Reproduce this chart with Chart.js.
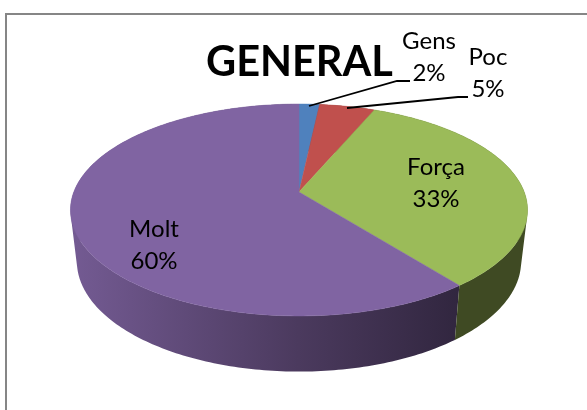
<!DOCTYPE html>
<html><head><meta charset="utf-8">
<style>html,body{margin:0;padding:0;background:#fff}#wrap{position:absolute;left:0;top:0;width:587px;height:410px}</style>
<script src="https://cdn.jsdelivr.net/npm/chart.js@4"></script></head>
<body><div id="wrap"><canvas id="c" width="587" height="410"></canvas></div>
<script>
const categories=['Gens','Poc','Força','Molt'];
const values=[1.7,4.6,33.0,60.4];
const percentLabels=['2%','5%','33%','60%'];
const faceColors=['#4F81BD','#C0504D','#9BBB59','#8064A2'];
const titleText='GENERAL';

const CX=299,CY=192,A=225.2,B=102.9,P=0.1698,K=0.972,YB=1.04,YA=43;
const FONT='Lato, Carlito, Calibri, sans-serif';
const labelPos=[[429,41,73],[488,57,89],[436,167,199],[154,229,261]];
const leaders=[[[309,106],[397,81],[410,81]],[[347,108],[458,97],[468,97]]];
function rimTop(a){const u=Math.cos(a),v=Math.sin(a),d=1-P*v;return [CX+A*u/d,CY+B*v/d];}
function rimLow(a){const t=rimTop(a);return [CX+K*(t[0]-CX),YB*t[1]+YA];}
function steps(a0,a1){const n=Math.max(2,Math.ceil((a1-a0)*60));const r=[];for(let i=0;i<=n;i++)r.push(a0+(a1-a0)*i/n);return r;}
const pie3d={id:'pie3d',
 beforeDatasetDraw(chart,args){
  const ctx=chart.ctx,arcs=chart.getDatasetMeta(args.index).data;
  ctx.save();
  ctx.fillStyle='#868686';ctx.fillRect(5,13,582,2);ctx.fillRect(5,13,2,397);
  // walls
  const wallMolt=ctx.createLinearGradient(75,0,460,0);
  wallMolt.addColorStop(0,'#735A92');wallMolt.addColorStop(0.58,'#4B3A5E');wallMolt.addColorStop(1,'#31263F');
  const wallFill=[ '#2C4468','#6A2C2A',"#3F4A23",wallMolt];
  [0,1,3,2].forEach(i=>{
    const s=arcs[i],st=steps(s.startAngle,s.endAngle);
    ctx.beginPath();
    for(let k=0;k<st.length-1;k++){
      let q=[rimTop(st[k]),rimTop(st[k+1]),rimLow(st[k+1]),rimLow(st[k])];
      let area=0;
      q.forEach((p,j)=>{const n=q[(j+1)%4];area+=p[0]*n[1]-n[0]*p[1];});
      if(area<0)q=q.reverse();
      q.forEach((p,j)=>j?ctx.lineTo(p[0],p[1]):ctx.moveTo(p[0],p[1]));
      ctx.closePath();
    }
    ctx.fillStyle=wallFill[i];ctx.fill('nonzero');
  });
  // faces
  arcs.forEach((s,i)=>{
    ctx.beginPath();ctx.moveTo(CX,CY);
    steps(s.startAngle,s.endAngle).forEach(a=>{const p=rimTop(a);ctx.lineTo(p[0],p[1]);});
    ctx.closePath();ctx.fillStyle=faceColors[i];ctx.fill();
    ctx.strokeStyle=faceColors[i];ctx.lineWidth=0.5;ctx.stroke();
  });
  // leaders
  ctx.strokeStyle='#000';ctx.lineWidth=1.8;
  leaders.forEach(l=>{ctx.beginPath();l.forEach((p,k)=>k?ctx.lineTo(p[0],p[1]):ctx.moveTo(p[0],p[1]));ctx.stroke();});
  // labels
  ctx.fillStyle='#000';ctx.font='24px '+FONT;ctx.textAlign='center';ctx.textBaseline='middle';
  categories.forEach((c,i)=>{const q=labelPos[i];ctx.fillText(c,q[0],q[1]);ctx.fillText(percentLabels[i],q[0],q[2]);});
  ctx.restore();
  return false;
 }};
new Chart(document.getElementById('c'),{type:'pie',
 data:{labels:categories,datasets:[{data:values,backgroundColor:faceColors,borderWidth:0}]},
 options:{responsive:false,animation:false,events:[],
  layout:{padding:{left:206}},
  plugins:{legend:{display:false},tooltip:{enabled:false},
   title:{display:true,text:titleText,align:'start',fullSize:false,color:'#000',
    font:{family:FONT,size:41.5,weight:'bold'},padding:{top:38,bottom:0}}}},
 plugins:[pie3d]});
</script></body></html>
